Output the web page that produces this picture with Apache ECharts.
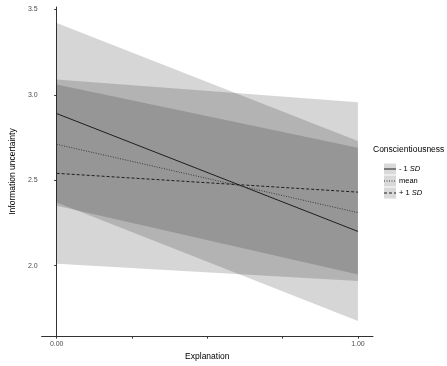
<!DOCTYPE html>
<html>
<head>
<meta charset="utf-8">
<script src="https://cdn.jsdelivr.net/npm/echarts@6/dist/echarts.min.js"></script>
<style>
  html, body { margin: 0; padding: 0; background: #fff; }
  #chart { width: 447px; height: 366px; }
</style>
</head>
<body>
<div id="chart"></div>
<script>
// Explanation (0 / 1) on x, predicted information uncertainty on y
const xs = [0, 1];

// Conscientiousness - 1 SD (solid)
const lowSdFit = [2.89, 2.20];
const lowSdLower = [2.37, 1.676];
const lowSdUpper = [3.42, 2.73];

// Conscientiousness mean (dotted)
const meanFit = [2.71, 2.31];
const meanLower = [2.35, 1.947];
const meanUpper = [3.06, 2.69];

// Conscientiousness + 1 SD (dashed)
const highSdFit = [2.54, 2.43];
const highSdLower = [2.01, 1.909];
const highSdUpper = [3.09, 2.956];

const yTicks = [2.0, 2.5, 3.0, 3.5];
const xTicks = [0, 0.25, 0.5, 0.75, 1];
const xLabels = [0, 1];

const legendNames = ['- 1 {i|SD}', 'mean', '+ 1 {i|SD}'];
const legendDash = ['solid', [1, 1.5], [3, 2]];

const FONT = 'Liberation Sans, Arial, sans-serif';
const bandFill = 'rgba(0,0,0,0.16)';
const lineColor = '#1e1e1e';
const dotColor = '#3a3a3a';

const toPairs = (a, b) => a.map((v, i) => [v, b[i]]);
const toSegments = (lo, hi) => {
  const segs = [];
  for (let i = 0; i < xs.length - 1; i++) {
    segs.push([xs[i], lo[i], hi[i], xs[i + 1], lo[i + 1], hi[i + 1]]);
  }
  return segs;
};

const bandSeries = (name, lo, hi) => ({
  name: name,
  type: 'custom',
  z: 1,
  silent: true,
  encode: { x: [0, 3], y: [1, 2, 4, 5] },
  data: toSegments(lo, hi),
  renderItem: (params, api) => {
    const a = api.coord([api.value(0), api.value(1)]);
    const b = api.coord([api.value(0), api.value(2)]);
    const c = api.coord([api.value(3), api.value(5)]);
    const d = api.coord([api.value(3), api.value(4)]);
    return {
      type: 'polygon',
      shape: { points: [a, b, c, d] },
      style: { fill: bandFill }
    };
  }
});

const lineSeries = (name, fit, dash, color) => ({
  name: name,
  type: 'line',
  z: 3,
  symbol: 'none',
  silent: true,
  data: toPairs(xs, fit),
  lineStyle: { color: color, width: 1, type: dash }
});

// legend drawn by hand (grey key boxes with a line sample)
const legendGraphics = [{
  type: 'text',
  left: 373,
  top: 145,
  style: { text: 'Conscientiousness', font: '8.5px ' + FONT, fill: '#000' }
}];
legendNames.forEach((label, i) => {
  const cy = 169 + i * 12;
  legendGraphics.push({
    type: 'rect',
    shape: { x: 384, y: cy - 5.5, width: 12, height: 11 },
    style: { fill: '#d9d9d9' }
  });
  legendGraphics.push({
    type: 'line',
    shape: { x1: 384, y1: cy, x2: 396, y2: cy },
    style: {
      stroke: i === 1 ? dotColor : lineColor,
      lineWidth: 1,
      lineDash: legendDash[i] === 'solid' ? null : legendDash[i]
    }
  });
  legendGraphics.push({
    type: 'text',
    x: 399,
    y: cy,
    style: {
      text: label,
      fontSize: 7.5,
      fontFamily: FONT,
      fill: '#000',
      verticalAlign: 'middle',
      rich: { i: { fontStyle: 'italic', fontSize: 7.5, fontFamily: FONT } }
    }
  });
});

const chart = echarts.init(document.getElementById('chart'), null, { renderer: 'canvas' });

chart.setOption({
  animation: false,
  backgroundColor: '#fff',
  grid: { left: 27, right: 74, top: 7, bottom: 24 },
  xAxis: {
    type: 'value',
    min: -0.05,
    max: 1.05,
    name: 'Explanation',
    nameLocation: 'middle',
    nameGap: 13,
    nameTextStyle: { fontSize: 8.5, fontFamily: FONT, color: '#000' },
    axisLine: { show: true, lineStyle: { color: '#333', width: 1 } },
    axisTick: { show: true, length: 2.5, lineStyle: { color: '#333' }, customValues: xTicks },
    axisLabel: {
      customValues: xLabels,
      formatter: v => v.toFixed(2),
      fontSize: 7,
      fontFamily: FONT,
      color: '#4d4d4d',
      margin: 4
    },
    splitLine: { show: false }
  },
  yAxis: {
    type: 'value',
    min: 1.587,
    max: 3.514,
    name: 'Information uncertainty',
    nameLocation: 'middle',
    nameGap: 12,
    nameTextStyle: { fontSize: 8.5, fontFamily: FONT, color: '#000' },
    axisLine: { show: true, lineStyle: { color: '#333', width: 1 } },
    axisTick: { show: true, length: 2.5, lineStyle: { color: '#333' }, customValues: yTicks },
    axisLabel: {
      customValues: yTicks,
      formatter: v => v.toFixed(1),
      fontSize: 7,
      fontFamily: FONT,
      color: '#4d4d4d',
      margin: 4
    },
    splitLine: { show: false }
  },
  graphic: legendGraphics,
  series: [
    bandSeries('band -1 SD', lowSdLower, lowSdUpper),
    bandSeries('band mean', meanLower, meanUpper),
    bandSeries('band +1 SD', highSdLower, highSdUpper),
    lineSeries('- 1 SD', lowSdFit, 'solid', lineColor),
    lineSeries('mean', meanFit, [1, 1.5], dotColor),
    lineSeries('+ 1 SD', highSdFit, [3, 2], lineColor)
  ]
});
</script>
</body>
</html>
